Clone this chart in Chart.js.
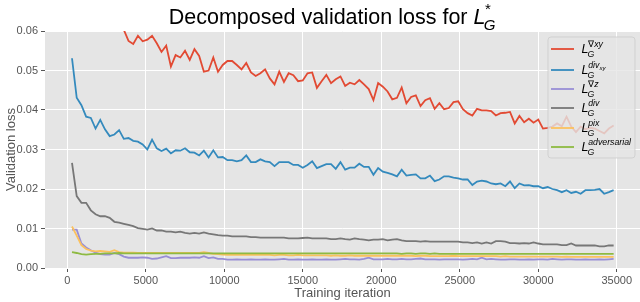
<!DOCTYPE html>
<html>
<head>
<meta charset="utf-8">
<script src="https://cdn.jsdelivr.net/npm/chart.js@4/dist/chart.umd.min.js"></script>
<style>
  html, body { margin: 0; padding: 0; background: #fff; }
  #wrap { width: 640px; height: 302px; }
</style>
</head>
<body>
<div id="wrap"><canvas id="chart" width="640" height="302"></canvas></div>
<script>
// Iteraciones de entrenamiento (eje X)
const iterations = [
  300, 600, 900, 1200, 1500, 1800, 2100, 2400, 2700, 3000,
  3300, 3600, 3900, 4200, 4500, 4800, 5100, 5400, 5700, 6000,
  6300, 6600, 6900, 7200, 7500, 7800, 8100, 8400, 8700, 9000,
  9300, 9600, 9900, 10200, 10500, 10800, 11100, 11400, 11700, 12000,
  12300, 12600, 12900, 13200, 13500, 13800, 14100, 14400, 14700, 15000,
  15300, 15600, 15900, 16200, 16500, 16800, 17100, 17400, 17700, 18000,
  18300, 18600, 18900, 19200, 19500, 19800, 20100, 20400, 20700, 21000,
  21300, 21600, 21900, 22200, 22500, 22800, 23100, 23400, 23700, 24000,
  24300, 24600, 24900, 25200, 25500, 25800, 26100, 26400, 26700, 27000,
  27300, 27600, 27900, 28200, 28500, 28800, 29100, 29400, 29700, 30000,
  30300, 30600, 30900, 31200, 31500, 31800, 32100, 32400, 32700, 33000,
  33300, 33600, 33900, 34200, 34500, 34800
];

const loss_grad_xy = [
  0.095, 0.089, 0.084, 0.079, 0.075, 0.072, 0.069, 0.067, 0.065, 0.0635,
  0.062, 0.0603, 0.0575, 0.0567, 0.0588, 0.0574, 0.0578, 0.0588, 0.0569, 0.0547,
  0.0563, 0.0510, 0.0539, 0.0533, 0.0550, 0.0527, 0.0554, 0.0537, 0.0497, 0.0500,
  0.0533, 0.0497, 0.0514, 0.0524, 0.0524, 0.0514, 0.0503, 0.0519, 0.0495, 0.0486,
  0.0493, 0.0503, 0.0480, 0.0465, 0.0497, 0.0471, 0.0493, 0.0488, 0.0473, 0.0475,
  0.0493, 0.0495, 0.0456, 0.0473, 0.0489, 0.0468, 0.0478, 0.0485, 0.0461, 0.0469,
  0.0465, 0.0476, 0.0465, 0.0453, 0.0425, 0.0468, 0.0459, 0.0447, 0.0427, 0.0431,
  0.0457, 0.0417, 0.0433, 0.0437, 0.0410, 0.0425, 0.0430, 0.0403, 0.0417, 0.0402,
  0.0405, 0.0420, 0.0422, 0.0402, 0.0392, 0.0386, 0.0403, 0.0399, 0.0399, 0.0397,
  0.0386, 0.0392, 0.0393, 0.0395, 0.0366, 0.0385, 0.0369, 0.0378, 0.0368, 0.0376,
  0.0353, 0.0355, 0.0358, 0.0366, 0.0359, 0.0383, 0.0358, 0.0344, 0.0358, 0.0351,
  0.0355, 0.0353, 0.0347, 0.0341, 0.0353, 0.0361
];

const loss_div_xy = [
  0.0531, 0.0431, 0.0412, 0.0383, 0.0380, 0.0353, 0.0375, 0.0351, 0.0334, 0.0338,
  0.0349, 0.0327, 0.0329, 0.0322, 0.0320, 0.0313, 0.0300, 0.0325, 0.0303, 0.0296,
  0.0302, 0.0290, 0.0298, 0.0297, 0.0303, 0.0293, 0.0292, 0.0285, 0.0297, 0.0280,
  0.0298, 0.0280, 0.0281, 0.0273, 0.0273, 0.0270, 0.0273, 0.0285, 0.0268, 0.0268,
  0.0275, 0.0270, 0.0268, 0.0258, 0.0268, 0.0268, 0.0268, 0.0261, 0.0261, 0.0254,
  0.0261, 0.0270, 0.0253, 0.0258, 0.0263, 0.0263, 0.0251, 0.0268, 0.0249, 0.0254,
  0.0254, 0.0264, 0.0256, 0.0256, 0.0236, 0.0253, 0.0244, 0.0241, 0.0237, 0.0232,
  0.0249, 0.0234, 0.0236, 0.0237, 0.0227, 0.0227, 0.0234, 0.0220, 0.0224, 0.0232,
  0.0232, 0.0229, 0.0227, 0.0224, 0.0224, 0.0210, 0.0219, 0.0221, 0.0219, 0.0214,
  0.0212, 0.0214, 0.0207, 0.0219, 0.0202, 0.0214, 0.0209, 0.0210, 0.0207, 0.0207,
  0.0202, 0.0205, 0.0200, 0.0197, 0.0192, 0.0197, 0.0190, 0.0193, 0.0188, 0.0197,
  0.0197, 0.0198, 0.0200, 0.0188, 0.0192, 0.0197
];

const loss_grad_z = [
  0.0097, 0.0097, 0.0062, 0.0052, 0.0045, 0.0039, 0.0035, 0.0034, 0.0034, 0.0038,
  0.0035, 0.0029, 0.0026, 0.0026, 0.0026, 0.0027, 0.0026, 0.0023, 0.0024, 0.0027,
  0.0030, 0.0025, 0.0025, 0.0026, 0.0026, 0.0026, 0.0027, 0.0026, 0.0030, 0.0025,
  0.0027, 0.0023, 0.0023, 0.0021, 0.0021, 0.0022, 0.0021, 0.0021, 0.0022, 0.0021,
  0.0021, 0.0022, 0.0021, 0.0021, 0.0022, 0.0023, 0.0021, 0.0021, 0.0022, 0.0021,
  0.0021, 0.0022, 0.0021, 0.0021, 0.0022, 0.0021, 0.0021, 0.0022, 0.0023, 0.0022,
  0.0022, 0.0021, 0.0023, 0.0026, 0.0022, 0.0022, 0.0022, 0.0023, 0.0022, 0.0022,
  0.0023, 0.0022, 0.0022, 0.0023, 0.0024, 0.0022, 0.0022, 0.0022, 0.0021, 0.0022,
  0.0022, 0.0022, 0.0022, 0.0021, 0.0022, 0.0023, 0.0022, 0.0026, 0.0022, 0.0023,
  0.0022, 0.0021, 0.0021, 0.0022, 0.0022, 0.0021, 0.0021, 0.0022, 0.0021, 0.0022,
  0.0022, 0.0021, 0.0023, 0.0022, 0.0021, 0.0022, 0.0022, 0.0021, 0.0021, 0.0022,
  0.0021, 0.0021, 0.0022, 0.0021, 0.0022, 0.0023
];

const loss_div = [
  0.0266, 0.0182, 0.0165, 0.0165, 0.0146, 0.0136, 0.0131, 0.0131, 0.0127, 0.0117,
  0.0115, 0.0112, 0.0109, 0.0106, 0.0101, 0.0099, 0.0097, 0.0100, 0.0095, 0.0095,
  0.0092, 0.0092, 0.0090, 0.0092, 0.0089, 0.0087, 0.0089, 0.0087, 0.0090, 0.0087,
  0.0085, 0.0083, 0.0082, 0.0082, 0.0080, 0.0080, 0.0080, 0.0080, 0.0078, 0.0078,
  0.0077, 0.0077, 0.0077, 0.0077, 0.0077, 0.0077, 0.0075, 0.0075, 0.0075, 0.0076,
  0.0077, 0.0075, 0.0075, 0.0075, 0.0075, 0.0073, 0.0073, 0.0075, 0.0073, 0.0072,
  0.0075, 0.0073, 0.0072, 0.0070, 0.0072, 0.0072, 0.0073, 0.0070, 0.0072, 0.0073,
  0.0070, 0.0068, 0.0068, 0.0068, 0.0067, 0.0068, 0.0067, 0.0067, 0.0067, 0.0067,
  0.0067, 0.0067, 0.0067, 0.0065, 0.0065, 0.0063, 0.0065, 0.0062, 0.0065, 0.0062,
  0.0068, 0.0068, 0.0067, 0.0063, 0.0063, 0.0062, 0.0063, 0.0062, 0.0065, 0.0062,
  0.0060, 0.0060, 0.0060, 0.0060, 0.0058, 0.0058, 0.0062, 0.0057, 0.0057, 0.0057,
  0.0057, 0.0057, 0.0055, 0.0055, 0.0057, 0.0057
];

const loss_pix = [
  0.0105, 0.0082, 0.0058, 0.0048, 0.0044, 0.0042, 0.0043, 0.0042, 0.0041, 0.0045,
  0.0040, 0.0039, 0.0039, 0.0039, 0.0038, 0.0038, 0.0038, 0.0038, 0.0038, 0.0038,
  0.0038, 0.0038, 0.0038, 0.0038, 0.0038, 0.0038, 0.0038, 0.0038, 0.0040, 0.0038,
  0.0036, 0.0035, 0.0034, 0.0033, 0.0033, 0.0033, 0.0033, 0.0033, 0.0033, 0.0033,
  0.0033, 0.0033, 0.0033, 0.0032, 0.0033, 0.0033, 0.0032, 0.0032, 0.0033, 0.0032,
  0.0032, 0.0032, 0.0032, 0.0032, 0.0032, 0.0031, 0.0032, 0.0031, 0.0031, 0.0032,
  0.0031, 0.0031, 0.0031, 0.0031, 0.0031, 0.0031, 0.0031, 0.0031, 0.0031, 0.0031,
  0.0031, 0.0031, 0.0031, 0.0030, 0.0031, 0.0031, 0.0030, 0.0030, 0.0030, 0.0030,
  0.0030, 0.0031, 0.0030, 0.0030, 0.0030, 0.0030, 0.0030, 0.0030, 0.0030, 0.0030,
  0.0030, 0.0029, 0.0030, 0.0029, 0.0029, 0.0029, 0.0029, 0.0029, 0.0029, 0.0029,
  0.0029, 0.0029, 0.0029, 0.0029, 0.0028, 0.0029, 0.0028, 0.0028, 0.0028, 0.0028,
  0.0028, 0.0028, 0.0028, 0.0028, 0.0028, 0.0028
];

const loss_adversarial = [
  0.0040, 0.0038, 0.0035, 0.0034, 0.0035, 0.0036, 0.0036, 0.0037, 0.0037, 0.0037,
  0.0038, 0.0037, 0.0037, 0.0037, 0.0037, 0.0037, 0.0037, 0.0037, 0.0037, 0.0037,
  0.0037, 0.0037, 0.0037, 0.0037, 0.0037, 0.0037, 0.0037, 0.0037, 0.0037, 0.0037,
  0.0037, 0.0037, 0.0037, 0.0037, 0.0037, 0.0037, 0.0037, 0.0037, 0.0037, 0.0037,
  0.0037, 0.0037, 0.0037, 0.0037, 0.0037, 0.0037, 0.0037, 0.0037, 0.0037, 0.0037,
  0.0037, 0.0037, 0.0037, 0.0037, 0.0037, 0.0037, 0.0037, 0.0037, 0.0037, 0.0037,
  0.0037, 0.0037, 0.0037, 0.0037, 0.0037, 0.0037, 0.0037, 0.0037, 0.0037, 0.0037,
  0.0036, 0.0037, 0.0037, 0.0036, 0.0037, 0.0037, 0.0036, 0.0037, 0.0036, 0.0036,
  0.0036, 0.0036, 0.0036, 0.0036, 0.0036, 0.0036, 0.0036, 0.0036, 0.0036, 0.0036,
  0.0036, 0.0036, 0.0036, 0.0036, 0.0036, 0.0036, 0.0036, 0.0036, 0.0036, 0.0036,
  0.0036, 0.0036, 0.0036, 0.0036, 0.0036, 0.0036, 0.0036, 0.0036, 0.0036, 0.0036,
  0.0036, 0.0036, 0.0036, 0.0036, 0.0036, 0.0036
];

// Etiquetas de la leyenda: superíndice de L_G (y subíndice del superíndice)
const legend_sup = ['∇xy', 'div', '∇z', 'div', 'pix', 'adversarial'];
const legend_sup_sub = ['', 'xy', '', '', '', ''];

const x_ticks = [0, 5000, 10000, 15000, 20000, 25000, 30000, 35000];
const y_ticks = [0, 0.01, 0.02, 0.03, 0.04, 0.05, 0.06];

const title_text = 'Decomposed validation loss for ';
const x_label = 'Training iteration';
const y_label = 'Validation loss';

const series = [loss_grad_xy, loss_div_xy, loss_grad_z, loss_div, loss_pix, loss_adversarial];
const colors = ['#E24A33', '#348ABD', '#988ED5', '#777777', '#FBC15E', '#8EBA42'];

const font_family = "'Liberation Sans', Arial, sans-serif";

// Dibuja L_G con superíndice (estilo mathtext)
function draw_math_L(ctx, x, baseline, size, sup, sup_sub) {
  ctx.textAlign = 'left';
  ctx.textBaseline = 'alphabetic';
  ctx.font = 'italic ' + size + 'px ' + font_family;
  ctx.fillText('L', x, baseline);
  const lw = ctx.measureText('L').width;
  const small = size * 0.7;
  ctx.font = 'italic ' + small + 'px ' + font_family;
  ctx.fillText('G', x + lw - size * 0.08, baseline + size * 0.3);
  const g_w = ctx.measureText('G').width;
  let sx = x + lw - size * 0.02;
  const sy = baseline - size * 0.48;
  for (const ch of sup) {
    ctx.font = (ch === '∇' || ch === '*' ? '' : 'italic ') + small + 'px ' + font_family;
    ctx.fillText(ch, sx, sy);
    sx += ctx.measureText(ch).width;
  }
  if (sup_sub) {
    ctx.font = 'italic ' + (small * 0.7) + 'px ' + font_family;
    ctx.fillText(sup_sub, sx, sy + small * 0.25);
    sx += ctx.measureText(sup_sub).width;
  }
  return Math.max(sx, x + lw - size * 0.08 + g_w) - x;
}

const plot_background = {
  id: 'plot_background',
  beforeDraw(chart) {
    const {ctx, chartArea} = chart;
    ctx.save();
    ctx.fillStyle = '#E5E5E5';
    ctx.fillRect(chartArea.left, chartArea.top, chartArea.right - chartArea.left, chartArea.bottom - chartArea.top);
    ctx.restore();
  }
};

const math_title = {
  id: 'math_title',
  afterDraw(chart) {
    const ctx = chart.ctx;
    const size = 21.5;
    ctx.save();
    ctx.fillStyle = '#000';
    ctx.font = size + 'px ' + font_family;
    const tw = ctx.measureText(title_text).width;
    ctx.font = 'italic ' + size + 'px ' + font_family;
    const lw = ctx.measureText('L').width + size * 0.55;
    const start = 333 - (tw + lw) / 2;
    ctx.font = size + 'px ' + font_family;
    ctx.textAlign = 'left';
    ctx.textBaseline = 'alphabetic';
    ctx.fillText(title_text, start, 24);
    draw_math_L(ctx, start + tw, 24, size, '*', '');
    ctx.restore();
  }
};

const math_legend = {
  id: 'math_legend',
  afterDatasetsDraw(chart) {
    const ctx = chart.ctx;
    const rows = [49, 70, 89, 108, 128, 147];
    ctx.save();
    ctx.beginPath();
    ctx.roundRect(548, 37, 87, 121, 3);
    ctx.fillStyle = 'rgba(229,229,229,0.8)';
    ctx.fill();
    ctx.strokeStyle = 'rgba(204,204,204,0.8)';
    ctx.lineWidth = 1;
    ctx.stroke();
    rows.forEach((ry, i) => {
      ctx.beginPath();
      ctx.moveTo(551, ry);
      ctx.lineTo(574, ry);
      ctx.strokeStyle = colors[i];
      ctx.lineWidth = 1.8;
      ctx.stroke();
      ctx.fillStyle = '#000';
      draw_math_L(ctx, 581.5, ry + 4, 12.5, legend_sup[i], legend_sup_sub[i]);
    });
    ctx.restore();
  }
};

const context = document.getElementById('chart').getContext('2d');
const chart = new Chart(context, {
  type: 'line',
  data: {
    labels: iterations,
    datasets: series.map((values, i) => ({
      data: values.map((v, j) => ({x: iterations[j], y: v})),
      borderColor: colors[i],
      backgroundColor: colors[i],
      borderWidth: 1.8,
      pointRadius: 0,
      tension: 0,
      fill: false,
      clip: 0,
      order: series.length - i // el primero queda debajo
    }))
  },
  options: {
    responsive: false,
    animation: false,
    devicePixelRatio: 1,
    layout: {padding: {top: 31, right: 0, left: 0, bottom: 0}},
    plugins: {
      legend: {display: false},
      tooltip: {enabled: false},
      title: {display: false}
    },
    scales: {
      x: {
        type: 'linear',
        min: -1420,
        max: 36480,
        afterBuildTicks: axis => { axis.ticks = x_ticks.map(v => ({value: v})); },
        afterFit: axis => { axis.height = 34; },
        grid: {color: '#FFFFFF', lineWidth: 1, tickColor: '#555555', tickLength: 4, drawTicks: true},
        border: {display: false},
        ticks: {color: '#555555', font: {size: 11, family: font_family}, padding: 2, maxRotation: 0,
          callback: v => String(v)},
        title: {display: true, text: x_label, color: '#555555',
          font: {size: 13, family: font_family}, padding: {top: 0, bottom: 1}}
      },
      y: {
        min: 0,
        max: 0.06,
        afterBuildTicks: axis => { axis.ticks = y_ticks.map(v => ({value: v})); },
        afterFit: axis => { axis.width = 45; },
        grid: {color: '#FFFFFF', lineWidth: 1, tickColor: '#555555', tickLength: 4, drawTicks: true},
        border: {display: false},
        ticks: {color: '#555555', font: {size: 11, family: font_family}, padding: 3,
          callback: v => v.toFixed(2)},
        title: {display: true, text: y_label, color: '#555555',
          font: {size: 13, family: font_family}, padding: {top: 4, bottom: 0}}
      }
    }
  },
  plugins: [plot_background, math_title, math_legend]
});
</script>
</body>
</html>
